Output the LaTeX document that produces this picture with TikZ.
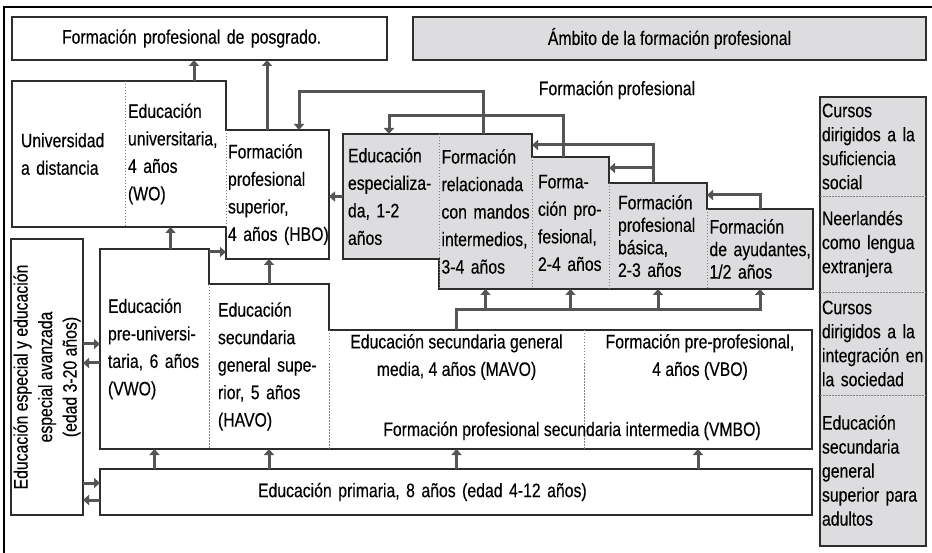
\documentclass[tikz,border=0pt]{standalone}
\usepackage{fontspec}
\setmainfont{Liberation Sans}[FakeStretch=0.81, FakeBold=0.3]
\usetikzlibrary{arrows.meta, calc, backgrounds}

\definecolor{fpgray}{RGB}{221,221,223}
\definecolor{arrgray}{RGB}{85,85,85}
\definecolor{linegray}{RGB}{45,45,45}
\hyphenpenalty=10000
\exhyphenpenalty=10000

\begin{document}
\begin{tikzpicture}[
        x=1pt, y=-1pt,
        font=\fontsize{19.5}{27.5}\selectfont,
        cell/.style={inner sep=0pt, outer sep=0pt, align=left},
        box/.style={cell, draw=linegray, line width=1.7pt},
        outline/.style={draw=linegray, line width=1.7pt, line join=miter},
        divider/.style={draw=gray, line width=0.7pt, dash pattern=on 1.5pt off 1.5pt},
        arr/.style={draw=arrgray, line width=3pt, line join=miter, -{Triangle[length=6pt, width=10pt]}},
        tight/.style={font=\fontsize{19.5}{22.5}\selectfont},
        side/.style={font=\fontsize{19.5}{24}\selectfont}
    ]
    \useasboundingbox (0,0) rectangle (932,553);
    \draw[line width=1.2pt] (4,553) -- (4,7) -- (932,7);

    % top row
    \node[box, minimum width=375pt, minimum height=43pt, text width=275pt] (posg) at (199.5,38.5) {Formación profesional de posgrado.};
    \node[box, fill=fpgray, minimum width=513pt, minimum height=43pt, align=center] (ambito) at (669.5,38.5) {Ámbito de la formación profesional};
    \node (fplabel) at (617,90) {Formación profesional};

    % university
    \node[cell, minimum width=113pt, minimum height=146pt, text width=95pt] (uni) at (68.5,154) {Universidad\\a~distancia};
    \node[cell, minimum width=101pt, minimum height=146pt, text width=95pt] (wo) at (175.5,154) {Educación\\universitaria,\\4~años\\(WO)};
    \node[cell, minimum width=103pt, minimum height=129pt, text width=99pt] (hbo) at (277.5,194.5) {Formación\\profesional\\superior,\\4~años~(HBO)};

    % vocational training
    \node[cell, minimum width=96pt, minimum height=125pt, text width=86pt] (esp) at (391,196.5) {Educación\\especializa-\\da,~1-2\\años};
    \node[cell, minimum width=93pt, minimum height=155pt, text width=88pt] (rel) at (485.5,211.5) {Formación\\relacionada\\con~mandos\\intermedios,\\3-4~años};
    \node[cell, minimum width=77pt, minimum height=132pt, text width=65pt] (fp) at (570.5,223) {Forma-\\ción~pro-\\fesional,\\2-4~años};
    \node[cell, tight, minimum width=98pt, minimum height=106pt, text width=80pt] (bas) at (658,236) {Formación\\profesional\\básica,\\2-3~años};
    \node[cell, tight, minimum width=106pt, minimum height=80pt, text width=101pt] (ayu) at (760,249) {Formación\\de~ayudantes,\\1/2~años};

    % secondary
    \node[cell, minimum width=109pt, minimum height=200pt, text width=93pt] (vwo) at (154.5,349) {Educación\\pre-universi-\\taria,~6~años\\(VWO)};
    \node[cell, minimum width=120pt, minimum height=165pt, text width=102pt] (havo) at (269,366.5) {Educación\\secundaria\\general~supe-\\rior,~5~años\\(HAVO)};
    \node[cell, minimum width=255pt, minimum height=119pt] (mavo) at (456.5,389.5) {};
    \node[cell, minimum width=228pt, minimum height=119pt] (vbo) at (698,389.5) {};
    \node[align=center] (mavotxt) at ($(mavo.north)+(0,27)$) {Educación secundaria general\\media, 4 años (MAVO)};
    \node[align=center] (vbotxt) at ($(vbo.north)+(2,27)$) {Formación pre-profesional,\\4 años (VBO)};
    \node[anchor=base] (vmbo) at ($(mavo.south east)+(-12,-13)$) {Formación profesional secundaria intermedia (VMBO)};

    % primary and special education
    \node[box, minimum width=712pt, minimum height=46pt, text width=396pt] (prim) at (456,492) {Educación primaria, 8 años (edad 4-12 años)};
    \node[box, minimum width=72pt, minimum height=276pt] (sped) at (47,377) {};
    \node[rotate=90, align=center, font=\fontsize{19.5}{24.5}\selectfont] (spedtxt) at (sped.center)
        {Educación especial y educación\\especial avanzada\\(edad 3-20 años)};

    % side column
    \node[cell, side, minimum width=106pt, minimum height=99pt, text width=102pt] (cur1) at (873,146.5) {Cursos\\dirigidos~a~la\\suficiencia\\social};
    \node[cell, side, minimum width=106pt, minimum height=96pt, text width=102pt] (cur2) at (873,244) {Neerlandés\\como~lengua\\extranjera};
    \node[cell, side, minimum width=106pt, minimum height=103pt, text width=102pt] (cur3) at (873,343.5) {Cursos\\dirigidos~a~la\\integración~en\\la~sociedad};
    \node[cell, side, minimum width=106pt, minimum height=151pt, text width=102pt] (cur4) at (873,470.5) {Educación\\secundaria\\general\\superior~para\\adultos};

    \begin{scope}[on background layer]
        \draw[outline] (uni.north west) -- (wo.north east) -- (hbo.north west) -- (hbo.north east)
            -- (hbo.south east) -- (hbo.south west) -- (wo.south east) -- (uni.south west) -- cycle;
        \draw[outline, fill=fpgray] (esp.north west) -- (rel.north east) -- (fp.north west) -- (fp.north east)
            -- (bas.north west) -- (bas.north east) -- (ayu.north west) -- (ayu.north east)
            -- (ayu.south east) -- (rel.south west) -- (esp.south east) -- (esp.south west) -- cycle;
        \draw[outline] (vwo.north west) -- (vwo.north east) -- (havo.north west) -- (havo.north east)
            -- (mavo.north west) -- (vbo.north east) -- (vbo.south east) -- (vwo.south west) -- cycle;
        \draw[outline, fill=fpgray] (cur1.north west) rectangle (cur4.south east);

        \draw[divider] (uni.north east) -- (uni.south east);
        \draw[divider] (hbo.north west) -- (wo.south east);
        \foreach \c in {rel,fp,bas,ayu,havo,mavo,vbo}
            \draw[divider] (\c.north west) -- (\c.south west);
        \foreach \c in {cur1,cur2,cur3}
            \draw[divider] (\c.south west) -- (\c.south east);
    \end{scope}

    % connectors
    \coordinate (r1) at (483,92);
    \coordinate (r2) at (299,92);
    \coordinate (s1) at (563,116);
    \coordinate (s2) at (389,116);
    \coordinate (t1) at (653,145);
    \coordinate (t2) at (653,168);
    \coordinate (u1) at (760,195);
    \coordinate (m1) at (456,310);

    \draw[arr] ($(wo.north)+(18.5,0)$) coordinate (p1) -- (p1 |- posg.south);
    \draw[arr] ($(hbo.north)+(-10.5,0)$) coordinate (p2) -- (p2 |- posg.south);
    \draw[arr] (rel.north -| r1) -- (r1) -- (r2) -- (hbo.north -| r2);
    \draw[arr] (fp.north -| s1) -- (s1) -- (s2) -- (esp.north -| s2);
    \draw[arr] (bas.north -| t1) -- (t1) -- (t1 -| rel.east);
    \draw[arr] (t2) -- (t2 -| fp.east);
    \draw[arr] (ayu.north -| u1) -- (u1) -- (u1 -| bas.east);
    \draw[arr] (esp.west) -- (esp.west -| hbo.east);

    \draw[arr] (mavo.north -| m1) -- (m1) -| (ayu.south);
    \foreach \c in {rel,fp,bas}
        \draw[arr] (m1 -| \c.south) -- (\c.south);

    \draw[arr] ($(vwo.north)+(16,0)$) coordinate (v1) -- (v1 |- wo.south);
    \draw[arr] ($(vwo.north east)+(0,3)$) coordinate (v2) -- (v2 -| hbo.west);
    \draw[arr] (havo.north) -- (havo.north |- hbo.south);
    \foreach \c in {vwo,havo,mavo,vbo}
        \draw[arr] (prim.north -| \c.south) -- (\c.south);

    \coordinate (e1) at ($(vwo.west)+(0,-5)$);
    \coordinate (e2) at ($(vwo.west)+(0,14)$);
    \coordinate (e3) at ($(prim.west)+(0,-9)$);
    \coordinate (e4) at ($(prim.west)+(0,8)$);
    \draw[arr] (e1 -| sped.east) -- (e1);
    \draw[arr] (e2) -- (e2 -| sped.east);
    \draw[arr] (e3 -| sped.east) -- (e3);
    \draw[arr] (e4) -- (e4 -| sped.east);
\end{tikzpicture}
\end{document}
